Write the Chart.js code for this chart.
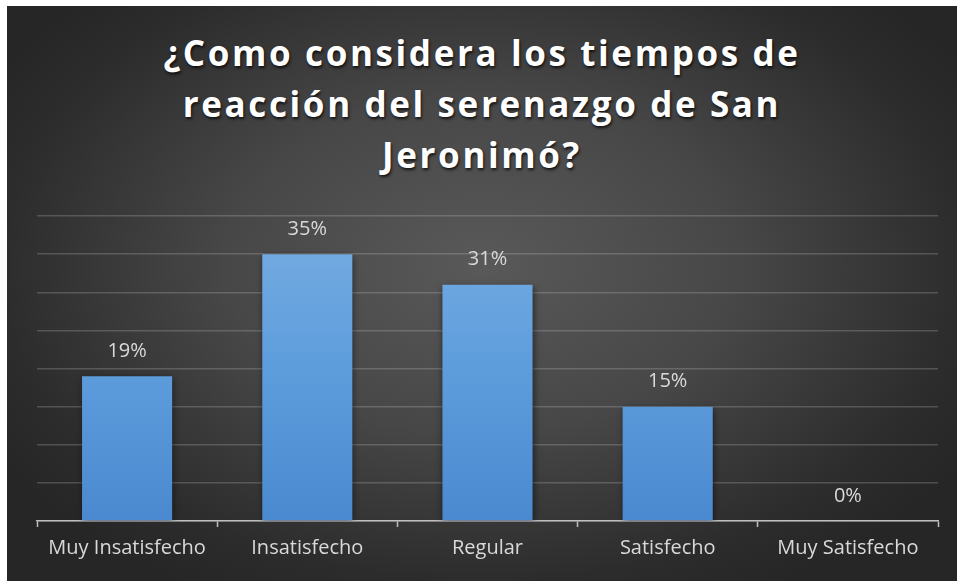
<!DOCTYPE html>
<html lang="es">
<head>
<meta charset="utf-8">
<script src="https://cdn.jsdelivr.net/npm/chart.js@4/dist/chart.umd.min.js"></script>
<style>
  html, body { margin: 0; padding: 0; background: #ffffff; }
  #frame {
    position: absolute; left: 7px; top: 6px; width: 950px; height: 575px;
    background: radial-gradient(ellipse 60% 65% at 50% 45%, #595959 0%, #474747 45%, #2c2c2c 85%, #262626 100%);
    overflow: hidden;
  }
  #title {
    position: absolute; left: 0; top: 21px; width: 950px;
    text-align: center; color: #ffffff;
    font-family: "Open Sans", Lato, sans-serif; font-weight: 700; font-size: 35px;
    line-height: 51px; letter-spacing: 2px;
    text-shadow: 1px 2px 3px rgba(0,0,0,0.75);
  }
  #title span { white-space: nowrap; }
  canvas { position: absolute; left: 0; top: 0; }
</style>
</head>
<body>
<div id="frame">
  <div id="title"><span id="l1">¿Como considera los tiempos de</span><br><span>reacción del serenazgo de San</span><br><span>Jeronimó?</span></div>
  <canvas id="chart" width="950" height="575"></canvas>
</div>
<script>
// Survey answers and their share of respondents (%)
const categories = ['Muy Insatisfecho', 'Insatisfecho', 'Regular', 'Satisfecho', 'Muy Satisfecho'];
const percentages = [19, 35, 31, 15, 0];
const yMax = 40;
const yStep = 5;

const labelColor = '#d9d9d9';
const gridColor = 'rgba(217,217,217,0.22)';
const font = '"Open Sans", Lato, sans-serif';

// widen the title tracking so the first line spans about 637px
(function spreadTitle() {
  const title = document.getElementById('title');
  const first = document.getElementById('l1');
  title.style.letterSpacing = '0px';
  const natural = first.getBoundingClientRect().width;
  const chars = first.textContent.length;
  const spacing = Math.max(0, (637 - natural) / chars);
  title.style.letterSpacing = spacing.toFixed(2) + 'px';
})();

// vertical blue gradient for the bars
function barFill(context) {
  const { chart } = context;
  const area = chart.chartArea;
  if (!area) return '#5b9bd5';
  const g = chart.ctx.createLinearGradient(0, area.top, 0, area.bottom);
  g.addColorStop(0, '#78ade2');
  g.addColorStop(0.5, '#5d9ddc');
  g.addColorStop(1, '#4a89cf');
  return g;
}

// soft shadow behind the bars
const barShadow = {
  id: 'barShadow',
  beforeDatasetsDraw(chart) {
    const ctx = chart.ctx;
    ctx.save();
    ctx.shadowColor = 'rgba(0,0,0,0.55)';
    ctx.shadowBlur = 7;
    ctx.shadowOffsetX = 1;
    ctx.shadowOffsetY = 2;
  },
  afterDatasetsDraw(chart) {
    chart.ctx.restore();
  }
};

// percentage labels above each bar
const valueLabels = {
  id: 'valueLabels',
  afterDatasetsDraw(chart) {
    const ctx = chart.ctx;
    const meta = chart.getDatasetMeta(0);
    ctx.save();
    ctx.fillStyle = labelColor;
    ctx.font = '20px ' + font;
    ctx.textAlign = 'center';
    ctx.textBaseline = 'middle';
    meta.data.forEach((bar, i) => {
      ctx.fillText(percentages[i] + '%', bar.x, bar.y - 25);
    });
    ctx.restore();
  }
};

new Chart(document.getElementById('chart'), {
  type: 'bar',
  data: {
    labels: categories,
    datasets: [{
      data: percentages,
      backgroundColor: barFill,
      borderWidth: 0,
      barPercentage: 0.5,
      categoryPercentage: 1.0
    }]
  },
  options: {
    responsive: false,
    animation: false,
    layout: { padding: { top: 210, left: 30, right: 19, bottom: 20 } },
    plugins: {
      legend: { display: false },
      tooltip: { enabled: false }
    },
    scales: {
      x: {
        offset: true,
        grid: {
          offset: true,
          drawOnChartArea: false,
          drawTicks: true,
          tickLength: 6,
          tickColor: '#bfbfbf',
          tickWidth: 1.5
        },
        border: { display: true, color: '#bfbfbf', width: 1.5 },
        ticks: {
          color: labelColor,
          font: { family: font, size: 20 },
          padding: 9,
          maxRotation: 0,
          autoSkip: false
        },
        afterFit(scale) { scale.height = 40; }
      },
      y: {
        min: 0,
        max: yMax,
        ticks: { display: false, stepSize: yStep },
        grid: { color: gridColor, lineWidth: 1.5, drawTicks: false },
        border: { display: false },
        afterFit(scale) { scale.width = 0; }
      }
    }
  },
  plugins: [barShadow, valueLabels]
});
</script>
</body>
</html>
